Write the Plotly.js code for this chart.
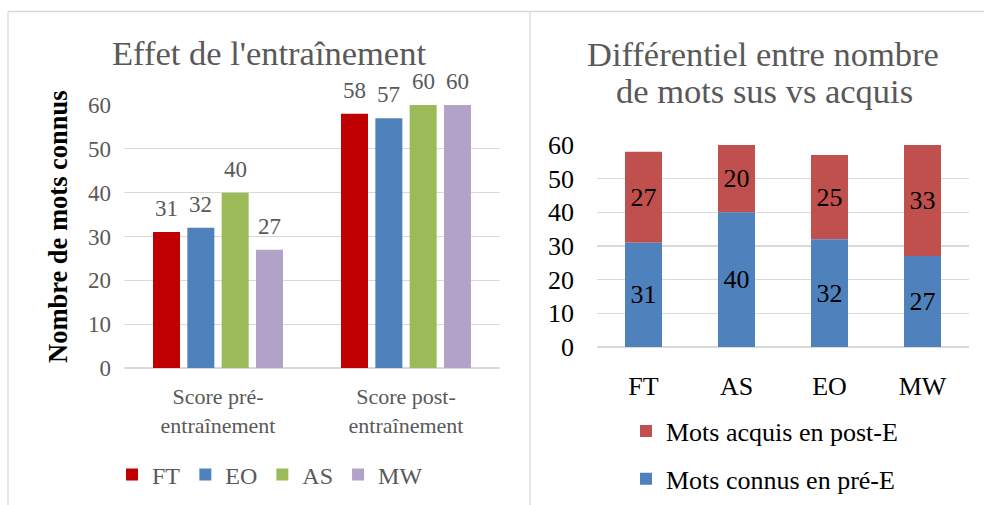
<!DOCTYPE html>
<html><head><meta charset="utf-8">
<script src="https://cdn.plot.ly/plotly-3.0.1.min.js"></script>
<style>html,body{margin:0;padding:0;background:#fff}#chart{width:984px;height:505px}</style>
</head><body><div id="chart"></div>
<script>
// ---- Data: left chart ----
const categories1 = ["Score pré-<br>entraînement", "Score post-<br>entraînement"];
const seriesNames1 = ["FT", "EO", "AS", "MW"];
const ftValues = [31, 58];
const eoValues = [32, 57];
const asValues = [40, 60];
const mwValues = [27, 60];
const yTicks1 = [0, 10, 20, 30, 40, 50, 60];

// ---- Data: right chart ----
const categories2 = ["FT", "AS", "EO", "MW"];
const connusPre = [31, 40, 32, 27];
const acquisPost = [27, 20, 25, 33];
const yTicks2 = [0, 10, 20, 30, 40, 50, 60];

// ---- Styles ----
const FONT = "Liberation Serif";
const GRAY = "#595959";
const GRID = "#D9D9D9";
const colors1 = ["#C00000", "#4F81BD", "#9BBB59", "#B3A2C7"];
const series1 = [ftValues, eoValues, asValues, mwValues];
const W = 984, H = 505;
const barW1 = 0.1436, slot1 = 0.1826, off0 = -0.3457;
const barW2 = 0.398;

const traces = [];
const annotations = [];
series1.forEach((vals, j) => {
  const off = off0 + j * slot1;
  traces.push({
    type: "bar", x: categories1, y: vals, name: seriesNames1[j],
    xaxis: "x", yaxis: "y", legend: "legend",
    offset: off, width: barW1,
    marker: {color: colors1[j]}, hoverinfo: "skip"
  });
  vals.forEach((v, i) => {
    annotations.push({
      xref: "x", yref: "y", x: i + off + barW1 / 2, y: v,
      text: String(v), showarrow: false, yanchor: "bottom", yshift: 9,
      font: {family: FONT, size: 23, color: GRAY}
    });
  });
});

traces.push({
  type: "bar", x: categories2, y: acquisPost, base: connusPre, name: "Mots acquis en post-E",
  xaxis: "x2", yaxis: "y2", legend: "legend2", legendgroup: "acquis",
  width: barW2, offset: -barW2 / 2,
  marker: {color: "#C0504D"},
  text: acquisPost.map(String), textposition: "inside", insidetextanchor: "middle",
  textfont: {family: FONT, size: 26, color: "#000"}, hoverinfo: "skip"
});
traces.push({
  type: "bar", x: categories2, y: connusPre, name: "Mots connus en pré-E",
  xaxis: "x2", yaxis: "y2", legend: "legend2", legendgroup: "connus",
  width: barW2, offset: -barW2 / 2,
  marker: {color: "#4F81BD"},
  text: connusPre.map(String), textposition: "inside", insidetextanchor: "middle",
  textfont: {family: FONT, size: 26, color: "#000"}, hoverinfo: "skip"
});

// Titles
annotations.push({xref: "paper", yref: "paper", x: 269 / W, y: 1 - 53 / H, xanchor: "center", yanchor: "middle",
  text: "Effet de l'entraînement", showarrow: false, font: {family: FONT, size: 34.5, color: GRAY}});
annotations.push({xref: "paper", yref: "paper", x: 763 / W, y: 1 - 54 / H, xanchor: "center", yanchor: "middle",
  text: "Différentiel entre nombre", showarrow: false, font: {family: FONT, size: 34.5, color: GRAY}});
annotations.push({xref: "paper", yref: "paper", x: 764 / W, y: 1 - 91 / H, xanchor: "center", yanchor: "middle",
  text: "de mots sus vs acquis", showarrow: false, font: {family: FONT, size: 34.5, color: GRAY}});
annotations.push({xref: "paper", yref: "paper", x: 58 / W, y: 1 - 227 / H, xanchor: "center", yanchor: "middle",
  text: "<b>Nombre de mots connus</b>", textangle: -90, showarrow: false, font: {family: FONT, size: 26.5, color: "#000"}});

const layout = {
  width: W, height: H, margin: {l: 0, r: 0, t: 0, b: 0},
  paper_bgcolor: "#fff", plot_bgcolor: "rgba(0,0,0,0)",
  barmode: "overlay",
  font: {family: FONT},
  xaxis: {domain: [124 / W, 500 / W], anchor: "y", type: "category", range: [-0.5, 1.5],
    showgrid: false, zeroline: false, showline: false, ticks: "", ticklabelstandoff: 13,
    tickfont: {family: FONT, size: 22, color: GRAY}, fixedrange: true},
  yaxis: {domain: [(H - 368) / H, (H - 105) / H], anchor: "x", range: [0, 60], tickvals: yTicks1,
    showgrid: true, gridcolor: GRID, gridwidth: 1.3, zeroline: true, zerolinecolor: GRID, zerolinewidth: 1.3,
    showline: false, ticks: "", ticklabelstandoff: 12,
    tickfont: {family: FONT, size: 23, color: GRAY}, fixedrange: true},
  xaxis2: {domain: [597 / W, 969 / W], anchor: "y2", type: "category", range: [-0.5, 3.5],
    showgrid: false, zeroline: false, showline: false, ticks: "", ticklabelstandoff: 21,
    tickfont: {family: FONT, size: 26, color: "#000"}, fixedrange: true},
  yaxis2: {domain: [(H - 347) / H, (H - 145) / H], anchor: "x2", range: [0, 60], tickvals: yTicks2,
    showgrid: true, gridcolor: GRID, gridwidth: 1.3, zeroline: true, zerolinecolor: GRID, zerolinewidth: 1.3,
    showline: false, ticks: "", ticklabelstandoff: 22,
    tickfont: {family: FONT, size: 26, color: "#000"}, fixedrange: true},
  legend: {orientation: "h", x: 112 / W, y: 1 - 475 / H, xanchor: "left", yanchor: "middle",
    font: {family: FONT, size: 24, color: GRAY}, bgcolor: "rgba(0,0,0,0)", traceorder: "normal"},
  legend2: {orientation: "v", x: 626 / W, y: 1 - 455 / H, xanchor: "left", yanchor: "middle",
    font: {family: FONT, size: 26, color: "#000"}, bgcolor: "rgba(0,0,0,0)",
    traceorder: "grouped", tracegroupgap: 11},
  annotations: annotations,
  shapes: [
    {type: "line", xref: "paper", yref: "paper", x0: 8 / W, x1: 1, y0: 1 - 11.5 / H, y1: 1 - 11.5 / H, line: {color: GRID, width: 1.3}},
    {type: "line", xref: "paper", yref: "paper", x0: 8 / W, x1: 8 / W, y0: 0, y1: 1 - 11.5 / H, line: {color: GRID, width: 1.3}},
    {type: "line", xref: "paper", yref: "paper", x0: 530 / W, x1: 530 / W, y0: 0, y1: 1 - 11.5 / H, line: {color: GRID, width: 1.3}}
  ]
};

Plotly.newPlot("chart", traces, layout, {staticPlot: true, displayModeBar: false});
</script>
</body></html>
